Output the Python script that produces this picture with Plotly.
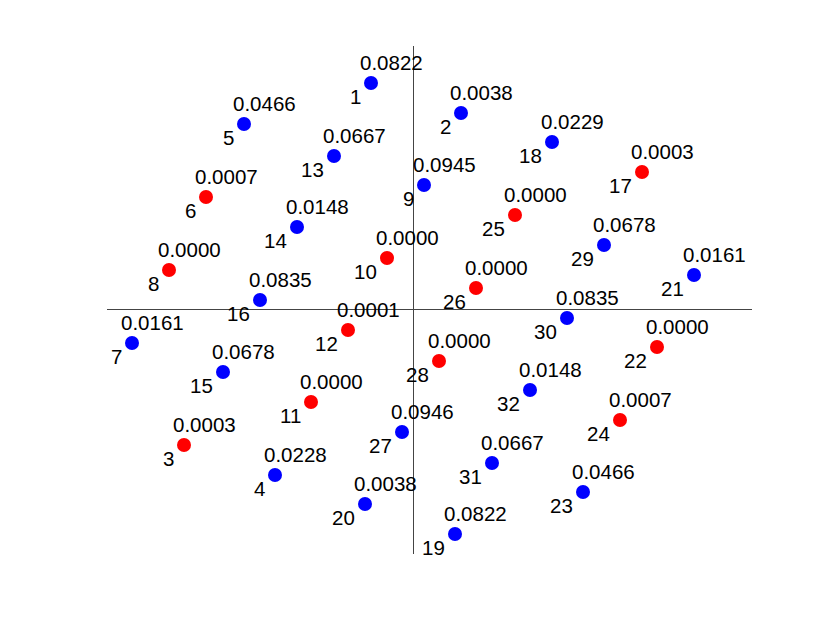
import plotly.graph_objects as go

# point index labels
ids = list(range(1, 33))
# coordinates of each point
xs = [-0.42, 0.48, -2.29, -1.38, -1.69, -2.07, -2.81, -2.44,
      0.11, -0.26, -1.02, -0.65, -0.79, -1.16, -1.90, -1.53,
      2.29, 1.39, 0.42, -0.48, 2.81, 2.44, 1.70, 2.07,
      1.02, 0.63, -0.11, 0.26, 1.91, 1.54, 0.79, 1.17]
ys = [2.26, 1.96, -1.36, -1.66, 1.85, 1.12, -0.34, 0.39,
      1.24, 0.51, -0.93, -0.21, 1.53, 0.82, -0.63, 0.09,
      1.37, 1.67, -2.25, -1.95, 0.34, -0.38, -1.83, -1.11,
      0.94, 0.21, -1.23, -0.52, 0.64, -0.09, -1.54, -0.81]
# value printed above each point
vals = [0.0822, 0.0038, 0.0003, 0.0228, 0.0466, 0.0007, 0.0161, 0.0000,
        0.0945, 0.0000, 0.0000, 0.0001, 0.0667, 0.0148, 0.0678, 0.0835,
        0.0003, 0.0229, 0.0822, 0.0038, 0.0161, 0.0000, 0.0466, 0.0007,
        0.0000, 0.0000, 0.0946, 0.0000, 0.0678, 0.0835, 0.0667, 0.0148]

colors = ["red" if v < 0.001 else "blue" for v in vals]

FONT = dict(family="Liberation Sans, Arial, sans-serif", size=20.5, color="black")

fig = go.Figure()
fig.add_trace(go.Scatter(
    x=xs, y=ys, mode="markers",
    marker=dict(size=14, color=colors, line=dict(width=0)),
    hoverinfo="skip", showlegend=False,
))

annotations = []
for i, x, y, v in zip(ids, xs, ys, vals):
    annotations.append(dict(
        x=x, y=y, xref="x", yref="y", text=f"{v:.4f}", showarrow=False,
        xanchor="left", yanchor="bottom", xshift=-11, yshift=9,
        borderpad=0, borderwidth=0, font=FONT,
    ))
    annotations.append(dict(
        x=x, y=y, xref="x", yref="y", text=str(i), showarrow=False,
        xanchor="right", yanchor="top", xshift=-10, yshift=-2,
        borderpad=0, borderwidth=0, font=FONT,
    ))

fig.update_layout(
    width=830, height=623,
    margin=dict(l=99, r=86, t=38, b=77),
    paper_bgcolor="white", plot_bgcolor="white",
    annotations=annotations,
    xaxis=dict(range=[-3.06, 3.39], showgrid=False, showticklabels=False,
               ticks="", zeroline=True, zerolinecolor="#444", zerolinewidth=1,
               showline=False, fixedrange=True),
    yaxis=dict(range=[-2.45, 2.63], showgrid=False, showticklabels=False,
               ticks="", zeroline=True, zerolinecolor="#444", zerolinewidth=1,
               showline=False, fixedrange=True),
)

fig.write_html("out.html")
